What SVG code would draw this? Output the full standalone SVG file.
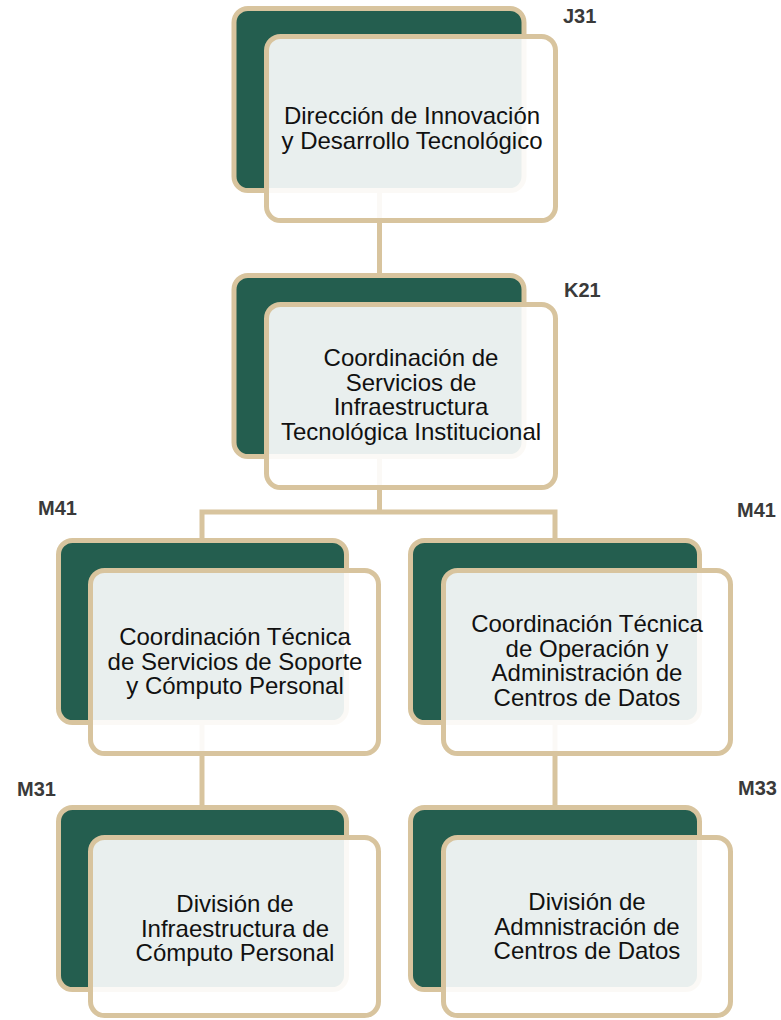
<svg xmlns="http://www.w3.org/2000/svg" width="781" height="1020" viewBox="0 0 781 1020">
<style>
.back{fill:#245e4f;stroke:#d8c49e;stroke-width:5}
.front{fill:#ffffff;fill-opacity:0.9;stroke:#d8c49e;stroke-width:5}
.conn{fill:none;stroke:#d8c49e;stroke-width:5;stroke-linejoin:miter}
.t{font-family:"Liberation Sans",Arial,sans-serif;font-size:24px;fill:#111;text-anchor:middle}
.lbl{font-family:"Liberation Sans",Arial,sans-serif;font-size:20px;font-weight:bold;fill:#3a3a3a}
</style>
<rect width="781" height="1020" fill="#ffffff"/>
<g id="connectors">
<path class="conn" d="M379.5,190 V276"/>
<path class="conn" d="M379.5,457 V512 M202,540 V512 H555 V540"/>
<path class="conn" d="M202,723 V808"/>
<path class="conn" d="M555,723 V808"/>
</g>
<g id="node-j31">
<rect class="back" x="234" y="8.5" width="290" height="182" rx="14"/>
<rect class="front" x="266.5" y="36.5" width="289" height="184" rx="14"/>
<text class="t" x="412" y="124">Dirección de Innovación</text>
<text class="t" x="412" y="148.5">y Desarrollo Tecnológico</text>
<text class="lbl" x="563" y="23">J31</text>
</g>
<g id="node-k21">
<rect class="back" x="234" y="275.5" width="290" height="181" rx="14"/>
<rect class="front" x="266.5" y="304.5" width="289" height="183" rx="14"/>
<text class="t" x="411" y="366">Coordinación de</text>
<text class="t" x="411" y="390.5">Servicios de</text>
<text class="t" x="411" y="415">Infraestructura</text>
<text class="t" x="411" y="439.5">Tecnológica Institucional</text>
<text class="lbl" x="564" y="297">K21</text>
</g>
<g id="node-m41-left">
<rect class="back" x="58.5" y="540.5" width="288" height="182" rx="14"/>
<rect class="front" x="90.5" y="570.5" width="288" height="183" rx="14"/>
<text class="t" x="235" y="645">Coordinación Técnica</text>
<text class="t" x="235" y="669.5">de Servicios de Soporte</text>
<text class="t" x="235" y="694">y Cómputo Personal</text>
<text class="lbl" x="38" y="515">M41</text>
</g>
<g id="node-m41-right">
<rect class="back" x="410.5" y="540.5" width="289" height="182" rx="14"/>
<rect class="front" x="443.5" y="570.5" width="287" height="183" rx="14"/>
<text class="t" x="587" y="632">Coordinación Técnica</text>
<text class="t" x="587" y="656.5">de Operación y</text>
<text class="t" x="587" y="681">Administración de</text>
<text class="t" x="587" y="705.5">Centros de Datos</text>
<text class="lbl" x="737" y="517">M41</text>
</g>
<g id="node-m31">
<rect class="back" x="58.5" y="807.5" width="288" height="182" rx="14"/>
<rect class="front" x="90.5" y="837.5" width="288" height="178" rx="14"/>
<text class="t" x="235" y="912">División de</text>
<text class="t" x="235" y="936.5">Infraestructura de</text>
<text class="t" x="235" y="961">Cómputo Personal</text>
<text class="lbl" x="17" y="796">M31</text>
</g>
<g id="node-m33">
<rect class="back" x="410.5" y="807.5" width="289" height="182" rx="14"/>
<rect class="front" x="443.5" y="837.5" width="287" height="178" rx="14"/>
<text class="t" x="587" y="910">División de</text>
<text class="t" x="587" y="934.5">Admnistración de</text>
<text class="t" x="587" y="959">Centros de Datos</text>
<text class="lbl" x="738" y="795">M33</text>
</g>
</svg>
